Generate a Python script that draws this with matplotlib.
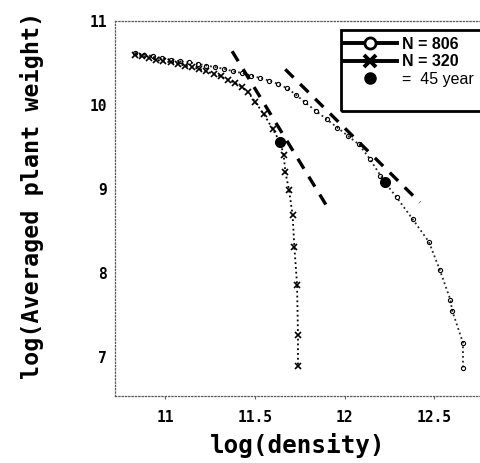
import matplotlib
matplotlib.use("Agg")
import matplotlib.pyplot as plt
from matplotlib.lines import Line2D
from matplotlib.patches import Rectangle

# N = 320 : steep curve (x markers)
n320_x = [10.83, 10.87, 10.91, 10.95, 10.99, 11.03, 11.07, 11.11, 11.15, 11.19,
          11.23, 11.27, 11.31, 11.35, 11.39, 11.43, 11.46, 11.50, 11.55, 11.60,
          11.64, 11.66, 11.67, 11.69, 11.71, 11.72, 11.735, 11.74, 11.74]
n320_y = [10.60, 10.58, 10.56, 10.54, 10.52, 10.51, 10.49, 10.47, 10.45, 10.43,
          10.40, 10.37, 10.34, 10.30, 10.26, 10.21, 10.16, 10.04, 9.89, 9.71,
          9.56, 9.41, 9.20, 8.99, 8.69, 8.31, 7.86, 7.26, 6.89]

# N = 806 : upper curve (circle markers)
n806_x = [10.83, 10.88, 10.93, 10.98, 11.03, 11.08, 11.13, 11.18, 11.23, 11.28,
          11.33, 11.38, 11.43, 11.48, 11.53, 11.58, 11.63, 11.68, 11.73, 11.78,
          11.84, 11.90, 11.96, 12.02, 12.08, 12.14, 12.20, 12.225, 12.29, 12.38,
          12.47, 12.53, 12.59, 12.60, 12.66, 12.66]
n806_y = [10.62, 10.60, 10.58, 10.56, 10.54, 10.52, 10.51, 10.49, 10.47, 10.45,
          10.43, 10.40, 10.38, 10.35, 10.32, 10.29, 10.25, 10.20, 10.12, 10.03,
          9.93, 9.83, 9.73, 9.63, 9.53, 9.36, 9.16, 9.08, 8.90, 8.64,
          8.37, 8.04, 7.68, 7.55, 7.17, 6.87]

# 45 year points
year45_x = [11.64, 12.225]
year45_y = [9.56, 9.08]

# dashed guide lines (end points)
guide1_x = [11.373, 11.914]
guide1_y = [10.64, 8.75]
guide2_x = [11.669, 12.42]
guide2_y = [10.425, 8.84]

x_ticks = [11, 11.5, 12, 12.5]
x_ticklabels = ["11", "11.5", "12", "12.5"]
y_ticks = [7, 8, 9, 10, 11]

MONO = "DejaVu Sans Mono"

fig = plt.figure(figsize=(4.81, 4.63), dpi=100)
ax = fig.add_axes([115 / 481, 1 - 396 / 463, 1 - 115 / 481, (396 - 21) / 463])

ax.plot(n806_x, n806_y, ls=':', color='0.15', lw=1.3, marker='o', ms=3,
        mfc='none', mec='k', mew=0.8)
ax.plot(n320_x, n320_y, ls=':', color='k', lw=1.3, marker='x', ms=4.5, mew=1.2)
ax.plot(year45_x, year45_y, ls='none', marker='o', ms=7, color='k')

ax.plot(guide1_x, guide1_y, ls=(0, (3.5, 2.8)), color='k', lw=2.4)
ax.plot(guide2_x, guide2_y, ls=(0, (3.5, 2.8)), color='k', lw=2.4)

ax.set_xlim(10.72, 11 + (481 - 165) / 179.5)
ax.set_ylim(11 - (396 - 21) / 84, 11.0)

ax.set_xticks(x_ticks)
ax.set_xticklabels(x_ticklabels)
ax.set_yticks(y_ticks)
for lab in ax.get_xticklabels() + ax.get_yticklabels():
    lab.set_fontfamily(MONO)
    lab.set_fontweight('bold')
    lab.set_fontsize(10.5)
ax.tick_params(axis='x', length=2, pad=8, color='0.4')
ax.tick_params(axis='y', length=0, pad=6)

for side in ['left', 'bottom', 'top']:
    ax.spines[side].set_linestyle(':')
    ax.spines[side].set_color('0.35')
    ax.spines[side].set_linewidth(0.9)
ax.spines['right'].set_visible(False)

ax.set_xlabel("log(density)", fontfamily=MONO, fontweight='bold',
              fontsize=17.5, labelpad=6)
ax.set_ylabel("log(Averaged plant weight)", fontfamily=MONO, fontweight='bold',
              fontsize=16.8)
ax.yaxis.set_label_coords((44 - 115) / 366, (396 - 195) / 375)

# legend box drawn in figure coordinates
fig.patches.append(Rectangle((341 / 481, 1 - 111 / 463), 160 / 481, 81 / 463,
                             transform=fig.transFigure, fill=False,
                             edgecolor='k', lw=2.0))
handles = [
    Line2D([], [], color='k', lw=2.8, marker='o', ms=8, mfc='white', mew=2),
    Line2D([], [], color='k', lw=2.8, marker='x', ms=9, mew=2.8),
    Line2D([], [], ls='none', color='k', marker='o', ms=8),
]
leg = fig.legend(handles, ["N = 806", "N = 320", "=  45 year"],
                 loc='upper left', bbox_to_anchor=(343 / 481, 1 - 37 / 463),
                 frameon=False, handlelength=3.4, handletextpad=0.3,
                 labelspacing=0.15, borderpad=0, borderaxespad=0,
                 prop={'family': 'Liberation Sans', 'weight': 'bold', 'size': 11.5})
leg.get_texts()[2].set_fontweight('normal')

fig.savefig("out.png", dpi=100)
